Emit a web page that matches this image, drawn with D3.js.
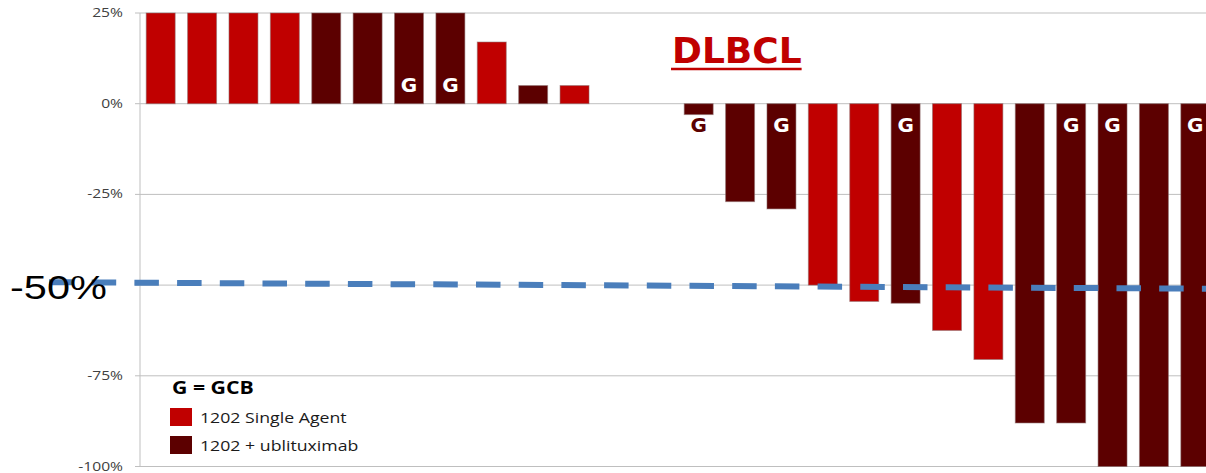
<!DOCTYPE html>
<html>
<head>
<meta charset="utf-8">
<script src="https://cdn.jsdelivr.net/npm/d3@7"></script>
<style>
  body { margin: 0; background: #fff; }
  svg { display: block; }
</style>
</head>
<body>
<div id="chart"></div>
<script>
// patients, left to right (two empty slots between the last gain and the first shrink)
const patients = ["P1","P2","P3","P4","P5","P6","P7","P8","P9","P10","P11","P12","P13",
  "P14","P15","P16","P17","P18","P19","P20","P21","P22","P23","P24","P25","P26"];
// best % change in tumor size (positive bars run off the top of the chart at 25%)
const change = [25, 25, 25, 25, 25, 25, 25, 25, 17, 5, 5, null, null,
  -3, -27, -29, -50, -54.5, -55, -62.5, -70.5, -88, -88, -100, -100, -100];
// treatment arm of each patient
const arm = ["single","single","single","single","combo","combo","combo","combo","single","combo","single",null,null,
  "combo","combo","combo","single","single","combo","single","single","combo","combo","combo","combo","combo"];
// GCB subtype patients get a "G"
const gcbCases = ["P7","P8","P14","P16","P19","P23","P24","P26"];
const yTicks = [25, 0, -25, -50, -75, -100];
const tickLabels = ["25%", "0%", "-25%", "", "-75%", "-100%"];
const legendItems = [
  { key: "single", label: "1202 Single Agent" },
  { key: "combo", label: "1202 + ublituximab" },
];
// the hand-drawn -50% reference line is slightly tilted
const refFrom = -49.2, refTo = -51;

const colors = { single: "#c00000", combo: "#5c0000" };
const width = 1206, height = 473;
const plot = { left: 140, right: 1216, top: 13, bottom: 466.5 };

// stretch text horizontally, the original picture is widened
function stretch(sel, k) {
  sel.each(function () {
    const w = this.getComputedTextLength();
    d3.select(this).attr("textLength", w * k).attr("lengthAdjust", "spacingAndGlyphs");
  });
}

const svg = d3.select("#chart").append("svg")
  .attr("width", width)
  .attr("height", height);

const x = d3.scaleBand()
  .domain(patients)
  .range([plot.left, plot.right])
  .paddingInner(0.3)
  .paddingOuter(0.15);

const y = d3.scaleLinear()
  .domain([-100, 25])
  .range([plot.bottom, plot.top]);

// gridlines + tick marks
svg.append("g")
  .selectAll("line")
  .data(yTicks)
  .join("line")
  .attr("x1", plot.left - 5)
  .attr("x2", width)
  .attr("y1", d => y(d))
  .attr("y2", d => y(d))
  .attr("stroke", "#bfbfbf")
  .attr("stroke-width", 1);

// vertical axis line
svg.append("line")
  .attr("x1", plot.left).attr("x2", plot.left)
  .attr("y1", y(25)).attr("y2", y(-100))
  .attr("stroke", "#bfbfbf");

const tickText = svg.append("g")
  .selectAll("text")
  .data(yTicks)
  .join("text")
  .attr("x", 123)
  .attr("y", d => y(d) + 4)
  .attr("text-anchor", "end")
  .style("font-family", "'Open Sans', sans-serif")
  .style("font-size", "12.5px")
  .style("fill", "#404040")
  .text((d, i) => tickLabels[i]);
stretch(tickText.filter((d, i) => tickLabels[i] !== ""), 1.25);

// bars
const data = patients.map((p, i) => ({ id: p, value: change[i], arm: arm[i] }))
  .filter(d => d.value !== null);

svg.append("g")
  .selectAll("rect")
  .data(data)
  .join("rect")
  .attr("x", d => x(d.id))
  .attr("width", x.bandwidth())
  .attr("y", d => y(Math.max(0, d.value)))
  .attr("height", d => Math.abs(y(d.value) - y(0)))
  .attr("fill", d => colors[d.arm])
  .attr("stroke", "rgba(140,110,110,0.55)")
  .attr("stroke-width", 1);

// G labels
svg.append("g")
  .selectAll("text")
  .data(data.filter(d => gcbCases.includes(d.id)))
  .join("text")
  .attr("x", d => x(d.id) + x.bandwidth() / 2)
  .attr("y", d => d.value > 0 ? y(0) - 12 : y(0) + 28.5)
  .attr("text-anchor", "middle")
  .style("font-family", "'DejaVu Sans', sans-serif")
  .style("font-weight", "bold")
  .style("font-size", "20px")
  .style("fill", d => (d.value > 0 || y(d.value) > y(0) + 32) ? "#fff" : colors.combo)
  .text("G");

// -50% reference line
svg.append("line")
  .attr("x1", 49).attr("x2", width)
  .attr("y1", y(refFrom)).attr("y2", y(refTo))
  .attr("stroke", "#4a7ebb")
  .attr("stroke-width", 6)
  .attr("stroke-dasharray", "24.5 18.2");

const big = svg.append("text")
  .attr("x", 10)
  .attr("y", y(-50) + 14)
  .style("font-family", "'Liberation Sans', sans-serif")
  .style("font-size", "34px")
  .style("fill", "#000")
  .text("-50%");
stretch(big, 1.22);

// title
const title = svg.append("text")
  .attr("x", 672)
  .attr("y", 63)
  .style("font-family", "'DejaVu Sans', sans-serif")
  .style("font-weight", "bold")
  .style("font-size", "36px")
  .style("fill", "#c00000")
  .text("DLBCL");
const tw = title.node().getComputedTextLength();
svg.append("line")
  .attr("x1", 671).attr("x2", 672 + tw)
  .attr("y1", 69).attr("y2", 69)
  .attr("stroke", "#c00000")
  .attr("stroke-width", 2.5);

// legend
const legend = svg.append("g");
const gTitle = legend.append("text")
  .attr("x", 172)
  .attr("y", 394)
  .style("font-family", "'Open Sans', sans-serif")
  .style("font-weight", "bold")
  .style("font-size", "17px")
  .style("fill", "#000")
  .text("G = GCB");
stretch(gTitle, 1.25);

legend.selectAll("rect")
  .data(legendItems)
  .join("rect")
  .attr("x", 170)
  .attr("y", (d, i) => 408 + i * 28)
  .attr("width", 22)
  .attr("height", 18)
  .attr("fill", d => colors[d.key]);

const legText = legend.selectAll("text.item")
  .data(legendItems)
  .join("text")
  .attr("class", "item")
  .attr("x", 200)
  .attr("y", (d, i) => 423 + i * 28)
  .style("font-family", "'Open Sans', sans-serif")
  .style("font-size", "15px")
  .style("fill", "#1a1a1a")
  .text(d => d.label);
stretch(legText, 1.18);
</script>
</body>
</html>
